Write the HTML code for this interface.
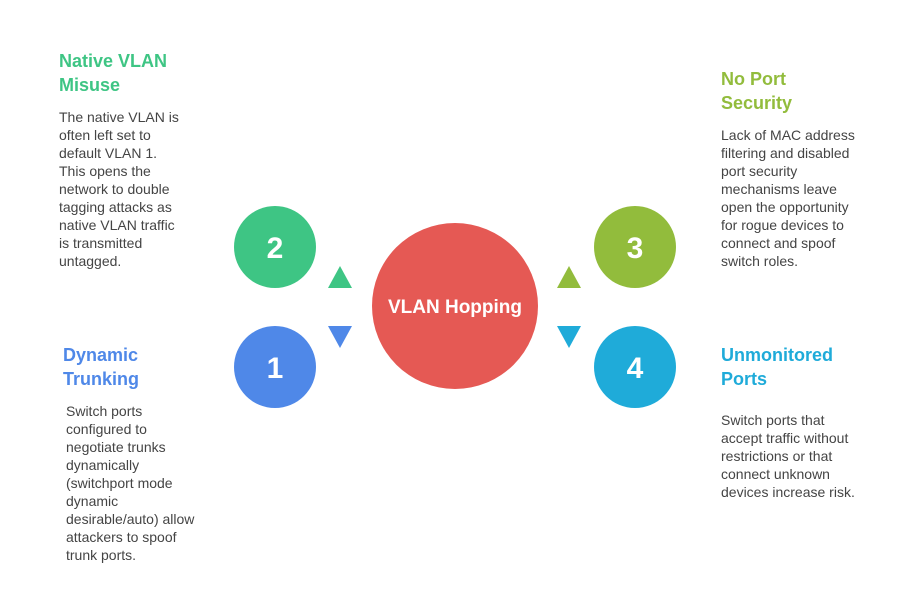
<!DOCTYPE html>
<html><head><style>
body{margin:0;width:906px;height:589px;background:#fff;position:relative;font-family:"Liberation Sans",Arial,sans-serif;overflow:hidden}
.t{position:absolute;font-weight:bold;font-size:18px;line-height:24px;white-space:nowrap}
.b{position:absolute;font-size:14px;line-height:18px;color:#444;white-space:nowrap}
</style></head><body>
<svg width="906" height="589" style="position:absolute;left:0;top:0">
<circle cx="275" cy="247" r="41" fill="#3ec584"/>
<circle cx="275" cy="367" r="41" fill="#4f88e8"/>
<circle cx="635" cy="247" r="41" fill="#92bc3c"/>
<circle cx="635" cy="367" r="41" fill="#1fabd9"/>
<circle cx="455" cy="306" r="83" fill="#e55954"/>
<polygon points="340,266 352,288 328,288" fill="#3ec584"/>
<polygon points="328,326 352,326 340,348" fill="#4f88e8"/>
<polygon points="569,266 581,288 557,288" fill="#92bc3c"/>
<polygon points="557,326 581,326 569,348" fill="#1fabd9"/>
<g font-family="Liberation Sans,Arial,sans-serif" font-weight="bold" fill="#fff" text-anchor="middle">
<text x="275" y="258" font-size="30">2</text>
<text x="275" y="378" font-size="30">1</text>
<text x="635" y="258" font-size="30">3</text>
<text x="635" y="378" font-size="30">4</text>
<text x="455" y="313" font-size="19">VLAN Hopping</text>
</g>
</svg>
<div class="t" style="left:59px;top:49px;color:#3ec584">Native VLAN<br>Misuse</div>
<div class="b" style="left:59px;top:108px">The native VLAN is<br>often left set to<br>default VLAN 1.<br>This opens the<br>network to double<br>tagging attacks as<br>native VLAN traffic<br>is transmitted<br>untagged.</div>
<div class="t" style="left:721px;top:67px;color:#92bc3c">No Port<br>Security</div>
<div class="b" style="left:721px;top:126px">Lack of MAC address<br>filtering and disabled<br>port security<br>mechanisms leave<br>open the opportunity<br>for rogue devices to<br>connect and spoof<br>switch roles.</div>
<div class="t" style="left:63px;top:343px;color:#4f88e8">Dynamic<br>Trunking</div>
<div class="b" style="left:66px;top:402px">Switch ports<br>configured to<br>negotiate trunks<br>dynamically<br>(switchport mode<br>dynamic<br>desirable/auto) allow<br>attackers to spoof<br>trunk ports.</div>
<div class="t" style="left:721px;top:343px;color:#1fabd9">Unmonitored<br>Ports</div>
<div class="b" style="left:721px;top:411px">Switch ports that<br>accept traffic without<br>restrictions or that<br>connect unknown<br>devices increase risk.</div>
</body></html>
